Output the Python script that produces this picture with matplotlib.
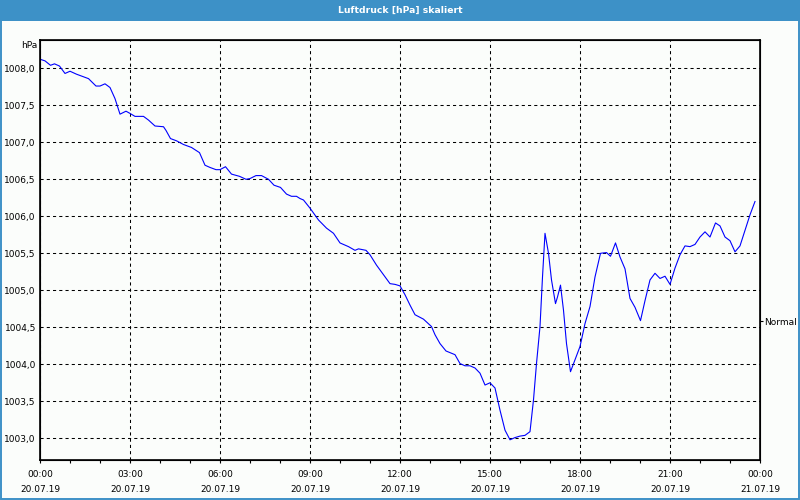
import matplotlib.pyplot as plt
import matplotlib.patches as patches
from matplotlib.ticker import MultipleLocator, FixedLocator

# time in minutes since 20.07.19 00:00, pressure in hPa
minutes = [1, 10, 21, 29, 39, 50, 60, 73, 97, 103, 112, 120, 130, 140, 150, 160, 172, 180,
           190, 207, 217, 230, 247, 252, 261, 273, 287, 303, 319, 330, 340, 352, 360, 371,
           383, 399, 412, 420, 432, 443, 457, 468, 481, 493, 503, 513, 520, 527, 540, 557,
           573, 587, 600, 617, 630, 637, 652, 660, 673, 687, 700, 710, 720, 730, 740, 750,
           767, 783, 790, 800, 812, 830, 840, 850, 860, 870, 880, 890, 900, 910, 920, 930,
           940, 950, 960, 970, 980, 987, 993, 1000, 1005, 1010, 1017, 1023, 1031, 1035,
           1041, 1047, 1053, 1061, 1070, 1080, 1090, 1100, 1110, 1121, 1133, 1141, 1151,
           1160, 1170, 1180, 1190, 1201, 1210, 1220, 1230, 1240, 1250, 1260, 1270, 1280,
           1290, 1300, 1310, 1320, 1330, 1340, 1351, 1360, 1370, 1380, 1390, 1400, 1410,
           1420, 1430]
pressure = [1008.12, 1008.10, 1008.04, 1008.06, 1008.03, 1007.93, 1007.96, 1007.92, 1007.86,
            1007.82, 1007.76, 1007.76, 1007.79, 1007.74, 1007.59, 1007.38, 1007.42, 1007.39,
            1007.35, 1007.35, 1007.30, 1007.22, 1007.21, 1007.16, 1007.05, 1007.02, 1006.97,
            1006.93, 1006.86, 1006.69, 1006.66, 1006.63, 1006.63, 1006.67, 1006.57, 1006.54,
            1006.50, 1006.51, 1006.55, 1006.55, 1006.50, 1006.42, 1006.39, 1006.30, 1006.27,
            1006.27, 1006.24, 1006.22, 1006.11, 1005.95, 1005.84, 1005.77, 1005.64, 1005.59,
            1005.54, 1005.56, 1005.54, 1005.48, 1005.34, 1005.21, 1005.09, 1005.08, 1005.06,
            1004.94, 1004.80, 1004.67, 1004.61, 1004.51, 1004.40, 1004.28, 1004.18, 1004.13,
            1004.01, 1003.98, 1003.98, 1003.95, 1003.88, 1003.72, 1003.75, 1003.68, 1003.38,
            1003.11, 1002.98, 1003.01, 1003.03, 1003.04, 1003.09, 1003.52, 1004.01, 1004.51,
            1005.18, 1005.77, 1005.50, 1005.14, 1004.82, 1004.91, 1005.07, 1004.73, 1004.28,
            1003.90, 1004.06, 1004.24, 1004.55, 1004.78, 1005.18, 1005.50, 1005.51, 1005.46,
            1005.64, 1005.45, 1005.29, 1004.89, 1004.77, 1004.59, 1004.86, 1005.14, 1005.23,
            1005.16, 1005.19, 1005.08, 1005.30, 1005.48, 1005.60, 1005.59, 1005.62, 1005.72,
            1005.79, 1005.72, 1005.91, 1005.87, 1005.72, 1005.67, 1005.52, 1005.60, 1005.81,
            1006.02, 1006.20]

tick_hours = [0, 3, 6, 9, 12, 15, 18, 21, 24]
tick_labels = ["00:00\n20.07.19", "03:00\n20.07.19", "06:00\n20.07.19", "09:00\n20.07.19",
               "12:00\n20.07.19", "15:00\n20.07.19", "18:00\n20.07.19", "21:00\n20.07.19",
               "00:00\n21.07.19"]
normal_value = 1004.58
title = "Luftdruck [hPa] skaliert"

bg = '#fbfdfb'
barblue = '#3d91c7'

fig = plt.figure(figsize=(8, 5), dpi=100, facecolor=bg)

# title bar and frame
fig.patches.append(patches.Rectangle((0, 0.959), 1, 0.041, transform=fig.transFigure,
                                     facecolor=barblue, edgecolor='none', zorder=0))
fig.patches.append(patches.Rectangle((0.0008, 0.002), 0.9984, 0.996, transform=fig.transFigure,
                                     facecolor='none', edgecolor=barblue, linewidth=1.4, zorder=0))
fig.text(0.5, 0.979, title, color='white', fontsize=6.7, fontweight='bold',
         ha='center', va='center')

ax = fig.add_axes([0.05, 0.08, 0.9, 0.84])
ax.set_facecolor(bg)

hours = [m / 60 for m in minutes]
ax.plot(hours, pressure, color='#0000ff', linewidth=0.8)

ax.set_xlim(0, 24)
ax.set_ylim(1002.707, 1008.382)

ax.xaxis.set_major_locator(FixedLocator(tick_hours))
ax.set_xticklabels(tick_labels)
ax.xaxis.set_minor_locator(MultipleLocator(1))
ax.yaxis.set_major_locator(MultipleLocator(0.5))
ax.yaxis.set_major_formatter(plt.FuncFormatter(lambda v, p: f"{v:.1f}".replace('.', ',')))

ax.tick_params(axis='x', which='both', direction='out', length=2.2, width=0.8,
               labelsize=6.5, pad=5)
ax.tick_params(axis='y', length=0, labelsize=6.5, pad=3)
for lab in ax.get_xticklabels():
    lab.set_linespacing(1.85)

ax.grid(True, which='major', color='black', linestyle=(0, (3, 3)), linewidth=0.75)
for s in ax.spines.values():
    s.set_linewidth(1.2)
    s.set_color('black')

ax.text(-0.004, 0.988, 'hPa', transform=ax.transAxes, ha='right', va='center', fontsize=6.5)

ax2 = ax.twinx()
ax2.set_ylim(ax.get_ylim())
ax2.set_yticks([normal_value])
ax2.set_yticklabels(['Normal'])
ax2.tick_params(axis='y', length=2.2, width=0.8, labelsize=6.5, pad=1)

fig.savefig('out.png', dpi=100, facecolor=bg)
